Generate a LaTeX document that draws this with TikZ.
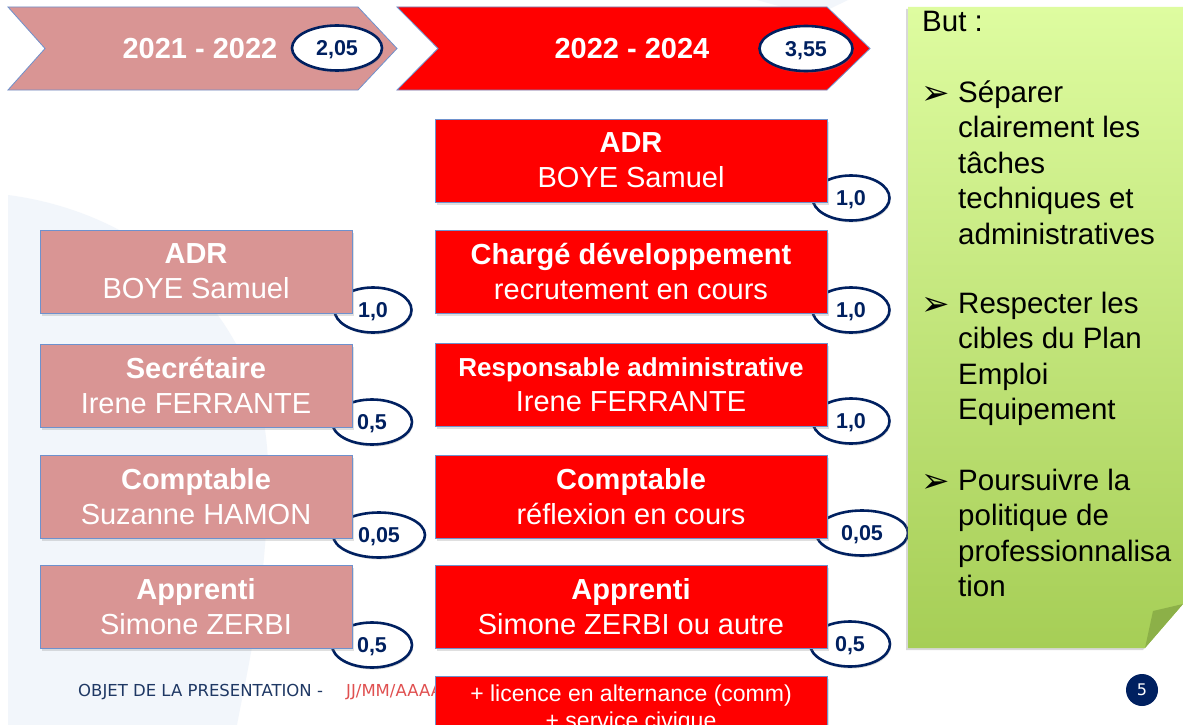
\documentclass[tikz,border=0pt]{standalone}
\usepackage{fontspec}
\setmainfont{Liberation Sans}
\newfontfamily\dejavu{DejaVu Sans}
\usetikzlibrary{shapes.geometric,shadows}
\definecolor{pinkbox}{RGB}{217,149,148}
\definecolor{redbox}{RGB}{255,0,0}
\definecolor{edgeblue}{RGB}{110,145,205}
\definecolor{navy}{RGB}{0,32,96}
\definecolor{bgblue}{RGB}{242,246,251}
\definecolor{notetop}{RGB}{222,252,160}
\definecolor{notebot}{RGB}{166,206,86}
\definecolor{notefold}{RGB}{140,176,72}
\definecolor{footnavy}{RGB}{31,56,100}
\definecolor{footred}{RGB}{224,80,80}
\begin{document}
\begin{tikzpicture}[x=1pt,y=-1pt,
  box/.style={rectangle, draw=edgeblue, line width=0.8pt, minimum height=83pt, align=center, text=white, inner sep=0pt,
    font=\fontsize{29}{35}\selectfont, drop shadow={shadow xshift=1.5pt,shadow yshift=-2.5pt,opacity=0.25}},
  oldbox/.style={box, fill=pinkbox, minimum width=312pt},
  newbox/.style={box, fill=redbox, minimum width=392pt},
  fte/.style={ellipse, draw=navy, line width=2.6pt, fill=white, inner sep=0pt, minimum height=45pt, text=navy,
    text depth=0pt, font=\bfseries\fontsize{21.5}{24}\selectfont,
    drop shadow={shadow xshift=1pt,shadow yshift=-2pt,opacity=0.3}},
  chev/.style={draw=edgeblue, line width=0.8pt},
  yearlbl/.style={text=white, font=\bfseries\fontsize{29}{35}\selectfont},
  goal/.style={anchor=base west, inner sep=0pt, font=\fontsize{29.5}{35.5}\selectfont},
  bul/.style={anchor=base west, inner sep=0pt, font=\dejavu\fontsize{34}{36}\selectfont},
  foot/.style={anchor=base west, inner sep=0pt, font=\dejavu\fontsize{16.5}{19}\selectfont},
]
\useasboundingbox (0,0) rectangle (1183,725);
\clip (0,0) rectangle (1183,725);
\fill[white] (0,0) rectangle (1183,725);
% background shapes
\fill[bgblue] (8,195) .. controls (160,215) and (268,330) .. (268,470) .. controls (268,590) and (245,680) .. (237,725) -- (8,725) -- cycle;
\fill[bgblue] (757,0) -- (848,0) -- (815,16) -- cycle;

% chevrons
\path[chev, fill=pinkbox] (8,7) -- (358,7) -- (397,48.5) -- (358,90) -- (8,90) -- (45,48.5) -- cycle;
\path[chev, fill=redbox] (397,7) -- (827,7) -- (870,48.5) -- (827,90) -- (397,90) -- (438,48.5) -- cycle;
\node[yearlbl] (y1) at (200,48.5) {2021 - 2022};
\node[fte, minimum width=90pt] (t1) at (337,48) {2,05};
\node[yearlbl] (y2) at (632,48.5) {2022 - 2024};
\node[fte, minimum width=93pt] (t2) at (806,48.5) {3,55};

% FTE ellipses (behind the boxes)
\node[fte, minimum width=77pt] (r1) at (851,198) {1,0};
\node[fte, minimum width=77pt] (r2) at (851,310) {1,0};
\node[fte, minimum width=77pt] (r3) at (851,421) {1,0};
\node[fte, minimum width=92pt] (r4) at (862,533) {0,05};
\node[fte, minimum width=80pt] (r5) at (850,644) {0,5};
\node[fte, minimum width=77pt] (l1) at (373,310) {1,0};
\node[fte, minimum width=80pt] (l2) at (372,422) {0,5};
\node[fte, minimum width=92pt] (l3) at (379,535) {0,05};
\node[fte, minimum width=80pt] (l4) at (372,645) {0,5};

% footer (partly hidden by the last box)
\node[foot, text=footnavy] (f1) at (78,696) {OBJET DE LA PRESENTATION -};
\node[foot, text=footred] (f2) at (346,696) {JJ/MM/AAAA};

% old organisation
\node[oldbox] (o1) at (196,271.5) {\textbf{ADR}\\BOYE Samuel};
\node[oldbox] (o2) at (196,385.5) {\textbf{Secrétaire}\\Irene FERRANTE};
\node[oldbox] (o3) at (196,497) {\textbf{Comptable}\\Suzanne HAMON};
\node[oldbox] (o4) at (196,607) {\textbf{Apprenti}\\Simone ZERBI};

% new organisation
\node[newbox] (n1) at (631,160.5) {\textbf{ADR}\\BOYE Samuel};
\node[newbox] (n2) at (631,272) {\textbf{Chargé développement}\\recrutement en cours};
\node[newbox] (n3) at (631,384.5) {{\bfseries\fontsize{26}{35}\selectfont Responsable administrative}\\Irene FERRANTE};
\node[newbox] (n4) at (631,497) {\textbf{Comptable}\\réflexion en cours};
\node[newbox] (n5) at (631,607) {\textbf{Apprenti}\\Simone ZERBI ou autre};
\node[newbox, minimum height=66pt, font=\fontsize{23}{27}\selectfont] (n6) at (631,709) {+ licence en alternance (comm)\\+ service civique};

% goal note
\path[top color=notetop, bottom color=notebot, drop shadow={shadow xshift=-2pt,shadow yshift=-2pt,opacity=0.3}]
  (908,7) -- (1183,7) -- (1183,604) -- (1145,648) -- (908,648) -- cycle;
\fill[notefold] (1145,648) -- (1153,611) -- (1183,604) -- cycle;

\node[goal] (but) at (922,32) {But :};
\node[bul] (b1) at (921,104) {➢};
\node[goal] (g1) at (958,102) {Séparer};
\node[goal] (g2) at (958,137.5) {clairement les};
\node[goal] (g3) at (958,173) {tâches};
\node[goal] (g4) at (958,208.5) {techniques et};
\node[goal] (g5) at (958,244) {administratives};
\node[bul] (b2) at (921,315) {➢};
\node[goal] (g6) at (958,313) {Respecter les};
\node[goal] (g7) at (958,348.5) {cibles du Plan};
\node[goal] (g8) at (958,384) {Emploi};
\node[goal] (g9) at (958,419.5) {Equipement};
\node[bul] (b3) at (921,492) {➢};
\node[goal] (g10) at (958,490) {Poursuivre la};
\node[goal] (g11) at (958,525.5) {politique de};
\node[goal] (g12) at (958,561) {professionnalisa};
\node[goal] (g13) at (958,596.5) {tion};

% page number
\node[circle, fill=navy, minimum size=32pt, inner sep=0pt, text=white, font=\dejavu\fontsize{16}{18}\selectfont] (pg) at (1142,690) {5};
\end{tikzpicture}
\end{document}
